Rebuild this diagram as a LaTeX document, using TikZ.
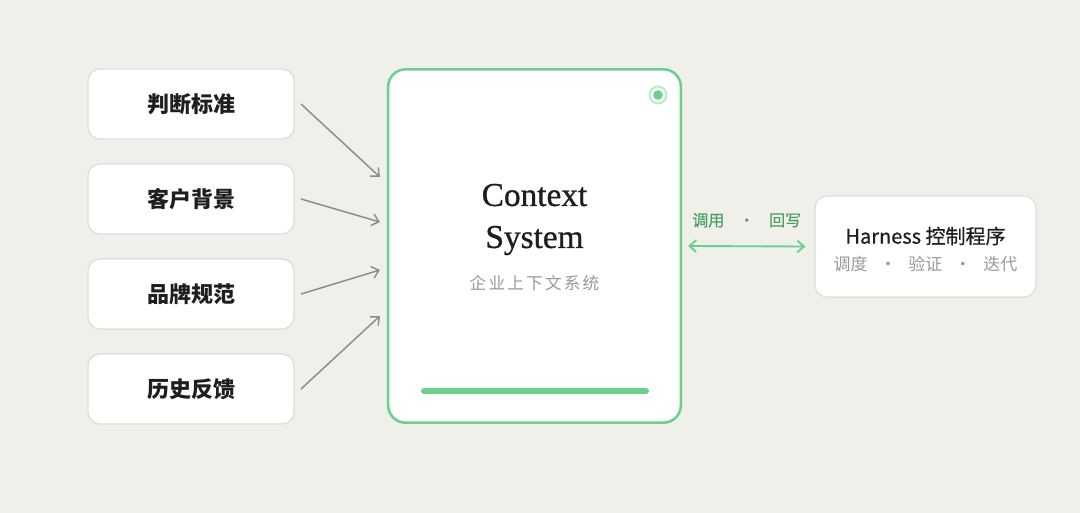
\documentclass[tikz,border=0pt]{standalone}
\usepackage{fontspec}
\newfontfamily\cjk{Noto Sans CJK SC}
\newfontfamily\titlefont{Liberation Serif}
\usetikzlibrary{arrows.meta,positioning}

\definecolor{paper}{HTML}{F0F0EB}
\definecolor{edgegray}{HTML}{DEDEDA}
\definecolor{ctxgreen}{HTML}{6DD08A}
\definecolor{ringgreen}{HTML}{B9EBC6}
\definecolor{labelgreen}{HTML}{4E9E63}
\definecolor{arrowgray}{HTML}{8C8C88}
\definecolor{subgray}{HTML}{9A9A97}
\definecolor{ink}{HTML}{1E1E1E}

\begin{document}
\begin{tikzpicture}[
  x=0.75pt, y=-0.75pt,
  node distance=18.75pt,
  >={Straight Barb[length=5pt,width=9pt]},
  source/.style={
    rectangle,
    rounded corners=9pt,
    draw=edgegray,
    line width=1pt,
    outer sep=0pt,
    fill=white,
    minimum width=154.5pt,
    minimum height=52.5pt,
    font=\cjk\bfseries\fontsize{16.5pt}{20pt}\selectfont,
    text=ink
  },
  feed/.style={->, draw=arrowgray, line width=1.1pt}
]

% background
\fill[paper] (0,0) rectangle (1080,513);
\useasboundingbox (0,0) rectangle (1080,513);

\node[source] (criteria) at (191,104) {判断标准};
\node[source, below=of criteria] (client) {客户背景};
\node[source, below=of client] (brand) {品牌规范};
\node[source, below=of brand] (history) {历史反馈};

\node[rectangle, rounded corners=13pt, draw=ctxgreen, line width=1.9pt,
  fill=white, minimum width=219.5pt, minimum height=265pt] (ctx) at (534.5,246) {};

\draw[ringgreen, line width=1.4pt, fill=white] (658,95) circle (8.5);
\fill[ctxgreen] (658,95) circle (4.8);

\node[align=center, text=ink,
  font=\titlefont\addfontfeature{FakeBold=0.8}\fontsize{25pt}{31.5pt}\selectfont]
  (title) at (534.5,219.5) {Context\\System};
\node[text=subgray, font=\cjk\addfontfeature{LetterSpace=13}\fontsize{12.5pt}{15pt}\selectfont,
  below=8pt of title] (sub) {企业上下文系统};

\draw[ctxgreen, line width=4.5pt, line cap=round] (424,391) -- (646,391);

\node[rectangle, rounded corners=9pt, draw=edgegray, line width=1pt, fill=white,
  minimum width=165.75pt, minimum height=75.75pt] (harness) at (925.5,246.5) {};
\node[text=ink, font=\cjk\addfontfeature{FakeBold=0.6}\fontsize{15pt}{18pt}\selectfont]
  (hname) at (925.5,236) {Harness 控制程序};
\node[text=subgray, font=\cjk\fontsize{12.75pt}{15pt}\selectfont] (hsub) at (925.5,264)
  {调度\hspace{0.7em}·\hspace{0.7em}验证\hspace{0.7em}·\hspace{0.7em}迭代};

% Arrows
\draw[feed] ([xshift=5.25pt]criteria.east) -- ([xshift=-5.25pt,yshift=51.75pt]ctx.west);
\draw[feed] ([xshift=5.25pt]client.east) -- ([xshift=-5.25pt,yshift=18pt]ctx.west);
\draw[feed] ([xshift=5.25pt]brand.east) -- ([xshift=-5.25pt,yshift=-18pt]ctx.west);
\draw[feed] ([xshift=5.25pt]history.east) -- ([xshift=-5.25pt,yshift=-52.5pt]ctx.west);

\draw[<->, draw=ctxgreen, line width=1.4pt] ([xshift=4.5pt]ctx.east) -- ([xshift=-6.75pt]harness.west)
  node[midway, above=10pt, text=labelgreen, font=\cjk\addfontfeature{FakeBold=0.4}\fontsize{12pt}{14pt}\selectfont]
  {调用\hspace{0.9em}·\hspace{0.9em}回写};

\end{tikzpicture}
\end{document}
